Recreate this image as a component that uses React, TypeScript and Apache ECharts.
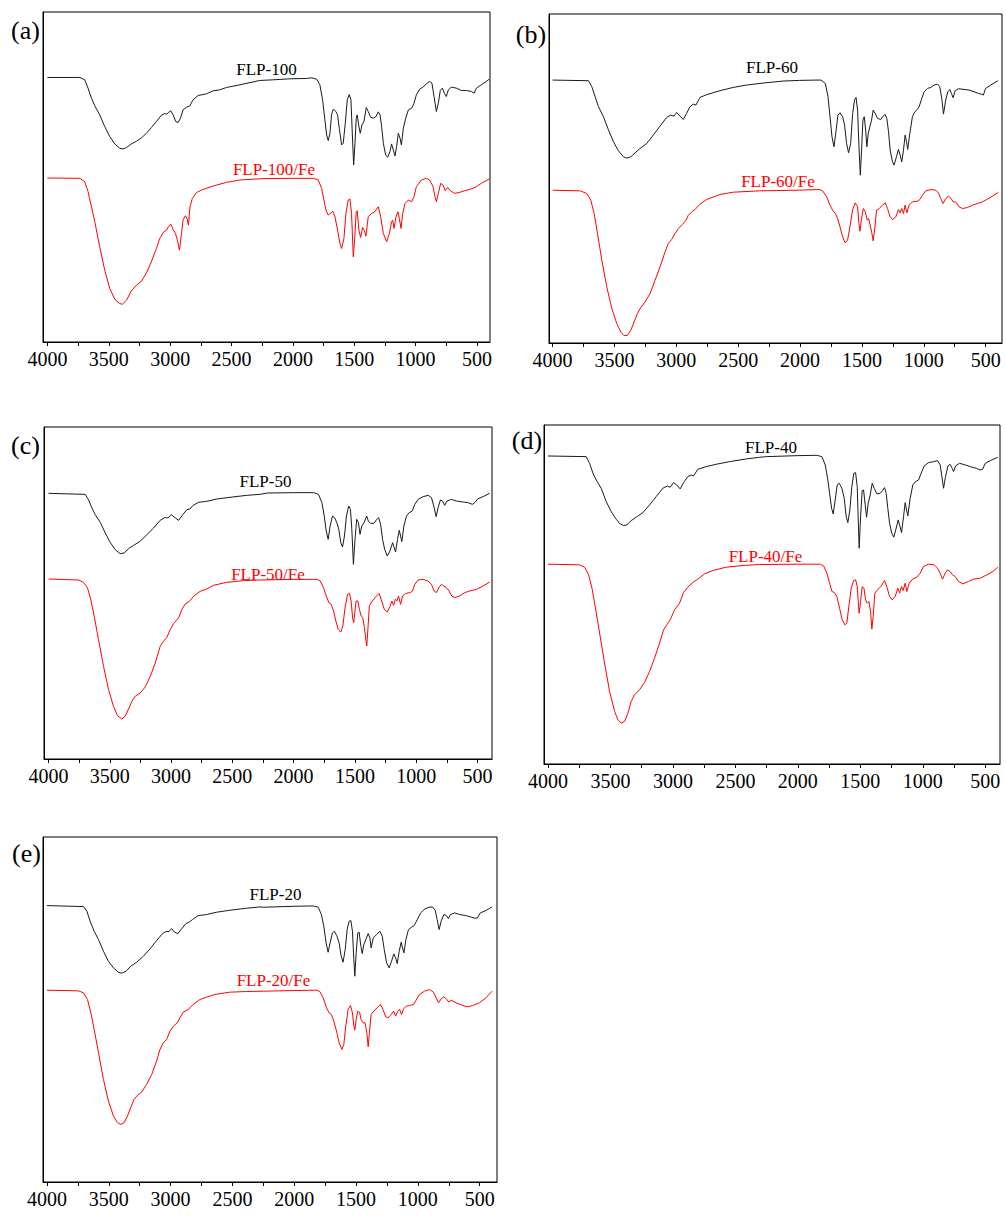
import React, { useEffect, useRef } from 'react';
import * as echarts from 'echarts';

// ---------------- data (wavenumber cm-1, transmittance a.u.) ----------------
const PANEL_LETTERS = ['(a)', '(b)', '(c)', '(d)', '(e)'];
const SAMPLE_NAMES = ['FLP-100', 'FLP-60', 'FLP-50', 'FLP-40', 'FLP-20'];
const FE_NAMES = ['FLP-100/Fe', 'FLP-60/Fe', 'FLP-50/Fe', 'FLP-40/Fe', 'FLP-20/Fe'];
const X_TICK_LABELS = [4000, 3500, 3000, 2500, 2000, 1500, 1000, 500];
const X_TICK_MARKS = [4000, 3750, 3500, 3250, 3000, 2750, 2500, 2250, 2000, 1750, 1500, 1250, 1000, 750, 500];

const FLP100 = [[4000,792],[3736,792],[3696,785],[3669,760],[3641,730],[3614,707],[3574,680],[3533,645],[3492,615],[3451,593],[3411,580],[3384,578],[3356,582],[3316,593],[3275,601],[3234,611],[3193,625],[3153,642],[3112,660],[3071,679],[3044,684],[3030,682],[3011,688],[2995,692],[2976,680],[2954,660],[2935,657],[2916,670],[2895,695],[2867,703],[2840,707],[2813,725],[2772,738],[2704,743],[2650,752],[2596,755],[2541,762],[2432,770],[2270,783],[2160,785],[2024,788],[1888,789],[1847,791],[1807,787],[1780,770],[1758,725],[1739,665],[1725,620],[1712,603],[1698,625],[1685,680],[1671,697],[1649,690],[1636,680],[1622,640],[1603,590],[1590,595],[1573,655],[1557,725],[1541,741],[1527,725],[1516,625],[1505,530],[1494,595],[1484,670],[1476,680],[1462,645],[1451,625],[1437,650],[1421,660],[1402,702],[1386,690],[1367,673],[1345,670],[1323,675],[1304,689],[1290,680],[1277,645],[1263,595],[1244,560],[1228,553],[1209,570],[1196,593],[1182,575],[1168,557],[1155,585],[1141,625],[1127,610],[1116,590],[1100,640],[1081,670],[1059,695],[1032,700],[1013,715],[994,740],[967,757],[940,763],[913,773],[886,780],[867,775],[850,735],[831,690],[815,715],[799,753],[782,760],[766,745],[750,735],[733,755],[709,763],[668,760],[628,753],[587,753],[546,750],[524,745],[505,760],[465,770],[424,780],[400,787]];
const FLP100_FE = [[4000,491],[3736,490],[3696,480],[3669,450],[3641,405],[3614,360],[3574,285],[3533,215],[3492,160],[3451,128],[3411,115],[3389,113],[3356,125],[3316,153],[3275,170],[3234,182],[3193,207],[3153,240],[3112,280],[3085,310],[3052,330],[3030,335],[3014,345],[2995,353],[2976,337],[2957,325],[2941,305],[2924,275],[2908,325],[2895,365],[2876,378],[2862,370],[2851,350],[2838,405],[2819,430],[2786,447],[2745,455],[2650,467],[2541,478],[2432,485],[2250,489],[2024,490],[1834,490],[1793,485],[1766,460],[1747,425],[1731,395],[1712,380],[1693,385],[1676,392],[1657,375],[1636,335],[1617,295],[1603,280],[1584,310],[1568,385],[1549,425],[1535,428],[1522,385],[1508,255],[1497,305],[1484,390],[1476,393],[1462,335],[1448,313],[1432,343],[1419,335],[1405,317],[1386,375],[1359,385],[1332,390],[1304,405],[1285,375],[1263,325],[1236,300],[1214,325],[1196,360],[1187,365],[1176,340],[1160,375],[1144,390],[1133,370],[1119,340],[1105,385],[1086,415],[1059,425],[1032,420],[1013,435],[994,465],[953,485],[913,490],[886,485],[858,465],[842,435],[831,420],[815,445],[796,475],[777,470],[758,453],[739,463],[717,453],[682,445],[641,448],[600,453],[560,457],[533,460],[505,465],[465,475],[400,488]];

const FLP60 = [[4000,788],[3710,786],[3683,768],[3656,738],[3629,708],[3589,678],[3548,638],[3508,603],[3468,576],[3427,558],[3401,554],[3368,558],[3333,570],[3293,583],[3239,598],[3186,623],[3132,650],[3078,676],[3046,683],[3019,680],[2997,691],[2970,680],[2944,670],[2917,688],[2890,708],[2863,716],[2842,713],[2809,736],[2756,744],[2648,756],[2540,766],[2433,773],[2300,779],[2140,785],[2005,787],[1871,788],[1831,788],[1796,778],[1774,738],[1758,678],[1742,618],[1726,588],[1710,633],[1694,683],[1677,690],[1656,678],[1640,653],[1624,598],[1608,570],[1591,598],[1575,688],[1559,730],[1548,736],[1535,698],[1524,588],[1513,503],[1503,578],[1492,668],[1481,678],[1470,638],[1460,588],[1449,628],[1436,648],[1422,668],[1409,698],[1393,688],[1374,673],[1347,670],[1328,680],[1312,685],[1299,673],[1285,633],[1272,578],[1253,543],[1240,533],[1221,558],[1205,580],[1191,563],[1178,543],[1164,578],[1151,623],[1140,603],[1130,580],[1113,628],[1092,678],[1073,693],[1051,700],[1038,708],[1016,733],[997,753],[970,763],[943,766],[917,773],[890,776],[871,768],[855,733],[841,686],[823,728],[806,753],[790,760],[777,748],[763,735],[747,756],[720,762],[675,760],[634,758],[594,753],[559,748],[535,746],[519,743],[500,763],[460,773],[406,785],[400,786]];
const FLP60_FE = [[4000,458],[3777,456],[3723,448],[3691,428],[3664,388],[3637,328],[3602,248],[3562,168],[3521,103],[3481,58],[3449,33],[3422,22],[3395,23],[3368,38],[3341,63],[3315,88],[3288,106],[3253,123],[3212,148],[3172,188],[3132,228],[3091,273],[3065,298],[3038,310],[3011,328],[2984,343],[2949,356],[2922,368],[2903,383],[2876,393],[2849,400],[2809,416],[2756,430],[2648,445],[2540,452],[2325,456],[2005,458],[1844,460],[1818,456],[1785,438],[1758,413],[1737,398],[1715,388],[1696,373],[1677,348],[1656,318],[1635,300],[1616,308],[1597,348],[1575,400],[1554,420],[1535,408],[1524,358],[1516,335],[1505,368],[1489,403],[1473,393],[1457,368],[1446,373],[1433,353],[1419,328],[1409,306],[1395,348],[1382,398],[1360,403],[1334,413],[1312,420],[1293,403],[1274,380],[1253,370],[1226,378],[1205,400],[1191,390],[1178,403],[1164,388],[1151,413],[1137,390],[1119,413],[1092,423],[1051,425],[1032,430],[1011,443],[984,456],[943,460],[903,458],[882,450],[863,433],[844,418],[823,433],[801,440],[779,433],[763,423],[742,423],[715,408],[688,403],[648,406],[607,413],[567,418],[527,423],[486,431],[446,440],[400,451]];

const FLP50 = [[4000,797],[3701,794],[3674,778],[3646,753],[3619,733],[3578,710],[3537,678],[3497,650],[3456,628],[3415,616],[3383,618],[3347,631],[3306,641],[3252,653],[3198,673],[3143,693],[3089,716],[3048,725],[3026,723],[2999,733],[2975,726],[2939,716],[2904,733],[2872,748],[2845,750],[2823,760],[2777,770],[2709,773],[2627,780],[2519,785],[2383,791],[2273,794],[2215,798],[2000,799],[1837,799],[1797,794],[1769,769],[1750,729],[1734,684],[1718,659],[1702,699],[1683,729],[1666,724],[1647,709],[1631,689],[1615,649],[1601,636],[1585,669],[1569,729],[1550,759],[1536,749],[1525,689],[1512,584],[1499,659],[1485,719],[1471,709],[1458,674],[1444,699],[1425,709],[1404,729],[1390,714],[1371,707],[1344,707],[1322,719],[1306,724],[1290,704],[1274,659],[1257,629],[1236,609],[1214,624],[1192,649],[1179,634],[1168,621],[1152,659],[1138,686],[1127,669],[1117,652],[1100,699],[1079,729],[1057,739],[1032,744],[1011,764],[984,779],[943,787],[902,791],[875,784],[856,759],[837,727],[821,754],[802,777],[785,774],[767,761],[748,774],[712,779],[672,774],[617,771],[576,769],[541,764],[522,769],[495,781],[454,787],[400,797]];
const FLP50_FE = [[4000,540],[3755,537],[3714,530],[3682,513],[3655,478],[3627,428],[3592,358],[3551,278],[3510,208],[3470,158],[3437,130],[3402,120],[3374,128],[3347,150],[3320,173],[3293,188],[3252,198],[3211,216],[3170,248],[3129,288],[3089,338],[3062,353],[3034,365],[3007,388],[2980,406],[2939,423],[2912,448],[2885,465],[2850,473],[2817,488],[2763,503],[2709,510],[2654,521],[2546,530],[2410,535],[2273,537],[2000,539],[1810,539],[1783,534],[1756,514],[1734,489],[1712,469],[1693,464],[1674,444],[1655,414],[1636,389],[1615,381],[1598,399],[1582,449],[1560,494],[1544,497],[1531,474],[1517,419],[1509,409],[1501,439],[1490,474],[1476,474],[1463,449],[1449,429],[1436,424],[1422,394],[1411,359],[1403,339],[1392,399],[1382,459],[1363,471],[1335,484],[1303,497],[1281,474],[1260,449],[1236,441],[1214,457],[1198,474],[1184,461],[1171,479],[1157,474],[1144,489],[1127,464],[1111,489],[1084,497],[1051,499],[1030,504],[1011,524],[984,537],[943,539],[902,534],[875,524],[853,504],[834,499],[815,514],[794,524],[775,519],[753,514],[731,504],[710,489],[685,484],[645,489],[604,499],[563,504],[508,509],[454,519],[400,531]];

const FLP40 = [[4000,925],[3694,923],[3667,903],[3640,873],[3614,853],[3574,828],[3534,788],[3494,758],[3454,735],[3422,721],[3395,716],[3369,718],[3334,731],[3294,741],[3240,755],[3187,778],[3134,803],[3081,828],[3046,835],[3022,831],[2995,845],[2969,838],[2942,826],[2915,845],[2881,863],[2854,868],[2835,865],[2801,885],[2734,893],[2654,900],[2547,908],[2414,916],[2308,921],[2250,923],[2000,926],[1848,927],[1808,923],[1781,898],[1762,858],[1746,813],[1730,768],[1717,751],[1701,793],[1685,838],[1669,843],[1648,828],[1629,798],[1613,743],[1600,725],[1584,763],[1568,833],[1552,873],[1538,875],[1525,833],[1514,703],[1509,648],[1498,743],[1485,821],[1474,823],[1461,778],[1450,741],[1437,783],[1421,808],[1405,843],[1389,828],[1368,811],[1341,813],[1322,821],[1306,830],[1293,813],[1280,768],[1266,723],[1248,693],[1232,681],[1213,708],[1197,733],[1184,715],[1170,695],[1154,743],[1141,785],[1130,763],[1120,745],[1101,798],[1080,838],[1058,848],[1034,853],[1013,873],[989,895],[954,905],[914,908],[882,911],[861,898],[847,863],[834,828],[818,863],[799,895],[781,900],[765,888],[754,878],[738,895],[706,903],[660,898],[620,893],[572,888],[540,883],[521,885],[500,903],[460,911],[400,921]];
const FLP40_FE = [[4000,600],[3747,598],[3707,591],[3675,568],[3648,528],[3622,473],[3587,393],[3547,303],[3507,218],[3467,158],[3440,133],[3414,123],[3387,128],[3360,153],[3334,188],[3307,208],[3267,223],[3227,245],[3187,278],[3147,318],[3107,363],[3075,403],[3049,418],[3022,433],[2987,463],[2947,483],[2915,515],[2881,531],[2841,545],[2801,555],[2747,571],[2681,581],[2574,591],[2441,596],[2308,599],[2000,600],[1821,600],[1794,595],[1768,573],[1746,543],[1727,518],[1709,515],[1688,503],[1666,468],[1645,433],[1624,418],[1608,423],[1592,473],[1573,528],[1554,551],[1538,553],[1525,533],[1514,473],[1509,453],[1498,488],[1485,533],[1471,528],[1458,493],[1445,483],[1432,488],[1418,458],[1408,405],[1397,443],[1384,513],[1362,523],[1336,533],[1306,551],[1288,533],[1266,503],[1245,493],[1221,503],[1200,528],[1186,513],[1170,533],[1157,521],[1141,543],[1128,518],[1109,543],[1082,555],[1048,561],[1021,573],[994,593],[954,600],[909,598],[882,588],[861,573],[842,555],[823,571],[802,583],[781,578],[762,568],[741,563],[714,548],[680,541],[634,548],[594,555],[540,558],[487,568],[439,578],[400,591]];

const FLP20 = [[4000,830],[3704,827],[3677,813],[3651,783],[3618,753],[3583,728],[3543,693],[3503,663],[3462,643],[3422,630],[3395,627],[3360,633],[3323,648],[3274,660],[3220,678],[3167,700],[3113,725],[3065,746],[3038,752],[3013,752],[2992,761],[2968,750],[2941,746],[2911,760],[2876,776],[2844,782],[2823,788],[2777,800],[2710,803],[2629,810],[2522,816],[2387,822],[2280,826],[2250,825],[2000,828],[1847,829],[1806,825],[1780,803],[1761,768],[1742,718],[1726,690],[1710,718],[1691,748],[1675,753],[1656,740],[1637,718],[1620,678],[1605,660],[1588,698],[1572,758],[1556,783],[1542,785],[1529,753],[1518,668],[1510,618],[1499,688],[1486,748],[1475,750],[1461,708],[1450,686],[1437,713],[1421,728],[1402,746],[1388,733],[1378,703],[1361,733],[1334,743],[1307,753],[1288,738],[1272,698],[1253,658],[1232,643],[1213,663],[1194,685],[1180,673],[1167,656],[1151,693],[1135,720],[1124,703],[1113,688],[1097,728],[1076,758],[1051,765],[1030,770],[1005,788],[978,808],[943,820],[911,825],[882,826],[860,816],[844,788],[828,758],[812,783],[790,803],[769,800],[753,791],[737,803],[702,808],[661,803],[613,800],[573,796],[540,792],[519,793],[495,808],[446,816],[400,826]];
const FLP20_FE = [[4000,576],[3745,574],[3704,568],[3672,548],[3645,508],[3618,458],[3583,388],[3543,308],[3503,243],[3462,198],[3430,178],[3403,173],[3376,178],[3349,198],[3323,223],[3296,248],[3269,260],[3234,270],[3194,293],[3153,323],[3113,363],[3086,398],[3059,418],[3032,428],[3005,453],[2978,468],[2946,478],[2925,493],[2898,510],[2858,518],[2817,533],[2763,548],[2710,555],[2643,563],[2522,570],[2387,572],[2250,573],[2000,575],[1820,576],[1793,572],[1766,553],[1739,523],[1718,508],[1699,503],[1680,483],[1658,453],[1637,418],[1615,398],[1599,413],[1583,468],[1564,518],[1545,530],[1529,508],[1518,468],[1510,456],[1499,488],[1486,513],[1472,510],[1459,488],[1443,478],[1427,478],[1413,448],[1402,406],[1392,448],[1378,503],[1357,513],[1330,523],[1303,533],[1282,518],[1260,496],[1242,493],[1221,500],[1196,513],[1180,498],[1162,513],[1148,518],[1132,503],[1116,520],[1094,528],[1067,530],[1035,533],[1014,546],[987,563],[947,573],[906,578],[874,570],[852,553],[833,538],[812,550],[790,556],[769,550],[750,540],[731,546],[691,538],[637,530],[597,526],[557,530],[503,538],[449,553],[400,573]];

const SAMPLE_SERIES = [FLP100, FLP60, FLP50, FLP40, FLP20];
const FE_SERIES = [FLP100_FE, FLP60_FE, FLP50_FE, FLP40_FE, FLP20_FE];

// ---------------- layout ----------------
const PANELS = [
  { left: 43, top: 12, width: 447, height: 330, xMin: 394, xMax: 4036, yMax: 988,
    letter: [25.5, 30], lab1: [266.5, 69], lab2: [274, 169] },
  { left: 549, top: 14, width: 453, height: 329, xMin: 368, xMax: 4029, yMax: 986,
    letter: [531, 34], lab1: [772, 67], lab2: [778, 181] },
  { left: 44, top: 427, width: 448, height: 332, xMin: 381, xMax: 4037, yMax: 996,
    letter: [25.5, 445], lab1: [265.5, 481], lab2: [268, 574] },
  { left: 544, top: 425, width: 456, height: 339, xMin: 382, xMax: 4032, yMax: 1018,
    letter: [527, 440], lab1: [771, 447], lab2: [765.5, 556] },
  { left: 43, top: 837, width: 454, height: 345, xMin: 360, xMax: 4032, yMax: 1036,
    letter: [26.5, 853], lab1: [275.5, 894], lab2: [273.5, 980.5] },
];

const SERIF = '"Liberation Serif", "Times New Roman", serif';
const BLACK = '#1a1a1a';
const RED = '#ff0000';

export default function App() {
  const ref = useRef<HTMLDivElement>(null);
  useEffect(() => {
    if (!ref.current) return;
    const chart = echarts.init(ref.current, undefined, { renderer: 'svg' });
    const grid: any[] = [];
    const xAxis: any[] = [];
    const yAxis: any[] = [];
    const series: any[] = [];
    const graphic: any[] = [];
    PANELS.forEach((p, i) => {
      grid.push({ left: p.left, top: p.top, width: p.width, height: p.height, show: true,
        borderColor: '#000', borderWidth: 1, backgroundColor: 'transparent', containLabel: false });
      xAxis.push({
        type: 'value', gridIndex: i, inverse: true, min: p.xMin, max: p.xMax,
        axisLine: { show: true, onZero: false, lineStyle: { color: '#000', width: 1 } },
        axisTick: { show: true, inside: false, length: 4, customValues: X_TICK_MARKS, lineStyle: { color: '#000', width: 1 } },
        axisLabel: { show: true, customValues: X_TICK_LABELS, margin: 7, fontSize: 20, fontFamily: SERIF, color: '#000',
          formatter: (v: number) => String(Math.round(v)) },
        splitLine: { show: false },
      });
      yAxis.push({
        type: 'value', gridIndex: i, min: 0, max: p.yMax,
        axisLine: { show: true, onZero: false, lineStyle: { color: '#000', width: 1 } },
        axisTick: { show: false }, axisLabel: { show: false }, splitLine: { show: false },
      });
      series.push({
        type: 'line', name: SAMPLE_NAMES[i], xAxisIndex: i, yAxisIndex: i, data: SAMPLE_SERIES[i],
        symbol: 'none', showSymbol: false, silent: true, lineStyle: { color: BLACK, width: 1 },
      });
      series.push({
        type: 'line', name: FE_NAMES[i], xAxisIndex: i, yAxisIndex: i, data: FE_SERIES[i],
        symbol: 'none', showSymbol: false, silent: true, lineStyle: { color: RED, width: 1 },
      });
      graphic.push({ type: 'text', x: p.letter[0], y: p.letter[1], silent: true,
        style: { text: PANEL_LETTERS[i], fill: '#000', fontSize: 26, fontFamily: SERIF, align: 'center', verticalAlign: 'middle' } });
      graphic.push({ type: 'text', x: p.lab1[0], y: p.lab1[1], silent: true,
        style: { text: SAMPLE_NAMES[i], fill: '#000', fontSize: 17, fontFamily: SERIF, align: 'center', verticalAlign: 'middle' } });
      graphic.push({ type: 'text', x: p.lab2[0], y: p.lab2[1], silent: true,
        style: { text: FE_NAMES[i], fill: RED, fontSize: 17, fontFamily: SERIF, align: 'center', verticalAlign: 'middle' } });
    });
    chart.setOption({ animation: false, backgroundColor: '#fff', grid, xAxis, yAxis, series, graphic });
    return () => chart.dispose();
  }, []);
  return <div ref={ref} style={{ position: 'absolute', left: 0, top: 0, width: 1006, height: 1216 }} />;
}
